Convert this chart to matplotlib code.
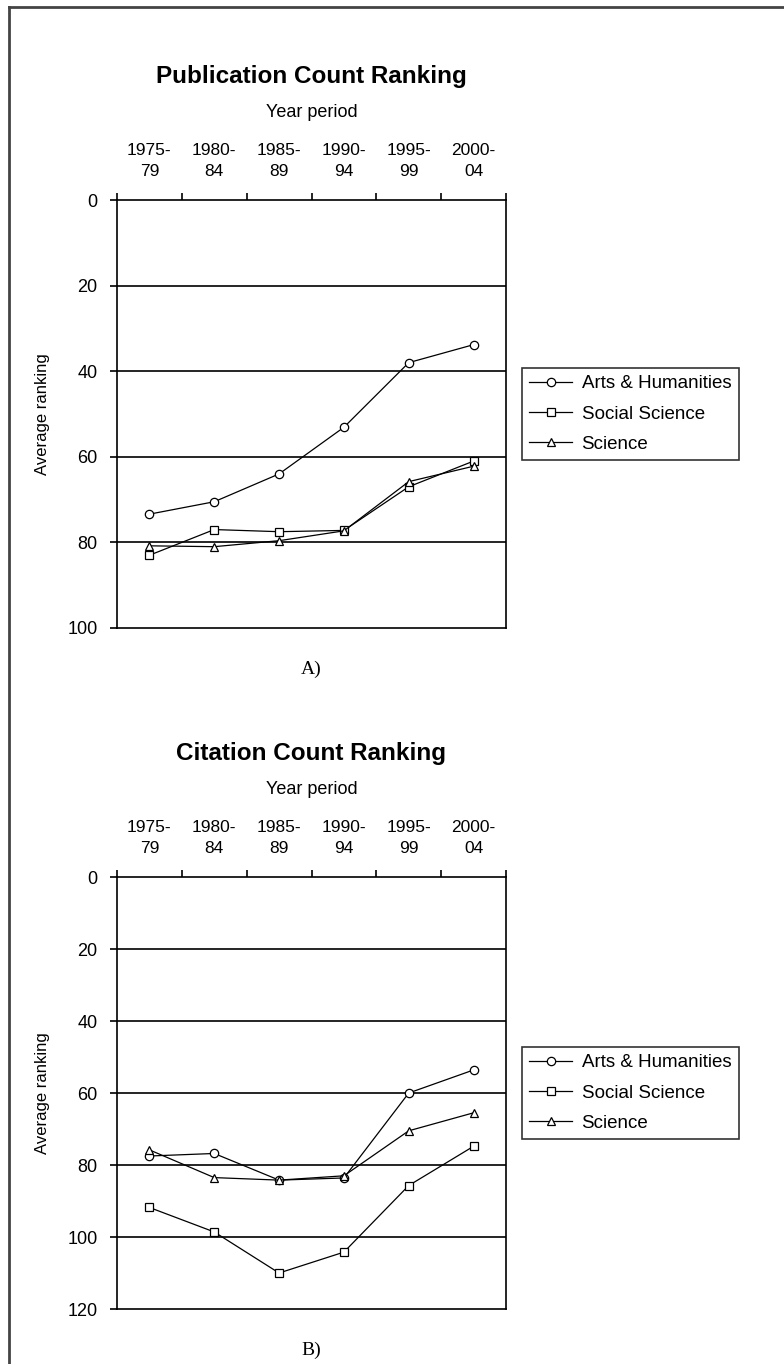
import matplotlib
matplotlib.use("Agg")
import matplotlib.pyplot as plt
from matplotlib.lines import Line2D

plt.rcParams['font.family'] = ['Liberation Sans', 'DejaVu Sans']

periods = ["1975-\n79", "1980-\n84", "1985-\n89", "1990-\n94", "1995-\n99", "2000-\n04"]
series_names = ["Arts & Humanities", "Social Science", "Science"]
markers = ["o", "s", "^"]

# A) publication count ranking
pub_arts = [73.4, 70.5, 64.0, 53.1, 38.0, 33.8]
pub_social = [83.0, 77.0, 77.5, 77.2, 67.0, 61.0]
pub_science = [80.8, 81.0, 79.6, 77.3, 65.8, 62.2]

# B) citation count ranking
cit_arts = [77.5, 76.8, 84.2, 83.6, 60.0, 53.6]
cit_social = [91.8, 98.6, 110.0, 104.2, 85.7, 74.8]
cit_science = [75.8, 83.5, 84.2, 83.0, 70.5, 65.5]


def ranking_chart(ax, title, series, ymax, panel):
    x = list(range(len(periods)))
    for vals, m, name in zip(series, markers, series_names):
        ax.plot(x, vals, color='black', lw=0.9, marker=m, ms=6,
                mfc='white', mec='black', mew=0.9, label=name, zorder=3)
    ax.set_xlim(-0.5, len(periods) - 0.5)
    ax.set_ylim(ymax, 0)
    ax.set_yticks(range(0, ymax + 1, 20))
    for v in range(20, ymax, 20):
        ax.axhline(v, color='black', lw=1.2, zorder=1)
    ax.xaxis.tick_top()
    ax.set_xticks(x)
    ax.set_xticklabels(periods, fontsize=12.5, linespacing=1.5)
    ax.set_xticks([i - 0.5 for i in range(len(periods) + 1)], minor=True)
    ax.tick_params(axis='x', which='major', length=0, pad=15)
    ax.tick_params(axis='x', which='minor', length=5, width=1.2, direction='out')
    ax.tick_params(axis='y', length=5, width=1.2, labelsize=13, pad=9)
    for s in ax.spines.values():
        s.set_linewidth(1.2)
    ax.annotate(title, xy=(0.5, 1), xycoords='axes fraction', xytext=(0, 89),
                textcoords='offset points', ha='center', va='center',
                fontsize=17.5, fontweight='bold')
    ax.annotate("Year period", xy=(0.5, 1), xycoords='axes fraction', xytext=(0, 63),
                textcoords='offset points', ha='center', va='center', fontsize=13)
    ax.annotate("Average ranking", xy=(0, 0.5), xycoords='axes fraction', xytext=(-54, 0),
                textcoords='offset points', ha='center', va='center', rotation=90,
                fontsize=12)
    ax.annotate(panel, xy=(0.5, 0), xycoords='axes fraction', xytext=(0, -30),
                textcoords='offset points', ha='center', va='center', fontsize=14,
                family='Liberation Serif')
    leg = ax.legend(loc='center left', bbox_to_anchor=(1.04, 0.5), fontsize=13.5,
                    frameon=True, fancybox=False, edgecolor='black',
                    handlelength=2.3, handletextpad=0.5, labelspacing=0.7,
                    borderpad=0.4, borderaxespad=0)
    leg.get_frame().set_linewidth(1.2)


fig = plt.figure(figsize=(7.84, 13.64), dpi=100)
ax1 = fig.add_axes([117 / 784, 1 - 628 / 1364, 389 / 784, 428 / 1364])
ax2 = fig.add_axes([117 / 784, 1 - 1309 / 1364, 389 / 784, 432 / 1364])

ranking_chart(ax1, "Publication Count Ranking", [pub_arts, pub_social, pub_science], 100, "A)")
ranking_chart(ax2, "Citation Count Ranking", [cit_arts, cit_social, cit_science], 120, "B)")

# frame lines along the top and left edges
fig.add_artist(Line2D([9 / 784, 1], [1 - 7 / 1364, 1 - 7 / 1364], color='#444444', lw=2,
                      transform=fig.transFigure))
fig.add_artist(Line2D([9 / 784, 9 / 784], [1 - 7 / 1364, 0], color='#444444', lw=2,
                      transform=fig.transFigure))

fig.savefig("out.png", dpi=100)
